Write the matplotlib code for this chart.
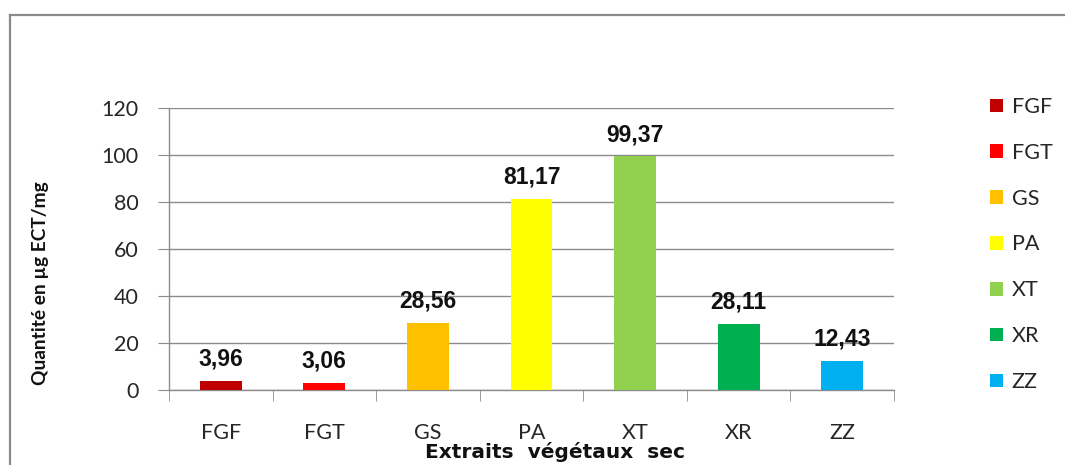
import matplotlib
matplotlib.use("Agg")
import matplotlib.pyplot as plt
from matplotlib.lines import Line2D
import numpy as np

# data
categories = ["FGF", "FGT", "GS", "PA", "XT", "XR", "ZZ"]
values = [3.96, 3.06, 28.56, 81.17, 99.37, 28.11, 12.43]
value_labels = ["3,96", "3,06", "28,56", "81,17", "99,37", "28,11", "12,43"]
colors = ["#C00000", "#FF0000", "#FFC000", "#FFFF00", "#92D050", "#00B050", "#00B0F0"]
y_ticks = [0, 20, 40, 60, 80, 100, 120]

W, H = 1065, 465
fig = plt.figure(figsize=(W / 100, H / 100), dpi=100)
fig.patch.set_facecolor("white")

# outer chart frame: only the top and left sides are inside the picture
fx, fy = 10 / W, 1 - 15 / H
fig.add_artist(Line2D([fx, 1.0], [fy, fy], transform=fig.transFigure,
                      color="#8a8a8a", lw=1.6))
fig.add_artist(Line2D([fx, fx], [0.0, fy], transform=fig.transFigure,
                      color="#8a8a8a", lw=1.6))

ax = fig.add_axes([169 / W, 1 - 390 / H, (894 - 169) / W, (390 - 108) / H])

x = np.arange(len(categories))
for i, (cat, v, c) in enumerate(zip(categories, values, colors)):
    ax.bar(x[i], v, width=0.405, color=c, label=cat, zorder=3)

for xi, v, lab in zip(x, values, value_labels):
    ax.annotate(lab, (xi, v), xytext=(0, 11), textcoords="offset points",
                ha="center", va="baseline", fontsize=16.5, fontweight="bold",
                family=["Liberation Sans", "DejaVu Sans"], color="#111111",
                zorder=4)

ax.set_xlim(-0.5, len(categories) - 0.5)
ax.set_ylim(0, 120)
ax.set_yticks(y_ticks)
ax.yaxis.grid(True, color="#8c8c8c", lw=1.0, zorder=0)
ax.set_axisbelow(True)

tick_font = dict(family=["Lato", "DejaVu Sans"], size=15.5, color="#262626")
ax.set_yticklabels([str(t) for t in y_ticks], **tick_font)
ax.set_xticks(x)
ax.set_xticklabels(categories, **tick_font)
ax.tick_params(axis="x", which="major", length=0, pad=24)
ax.set_xticks(np.arange(-0.5, len(categories), 1), minor=True)
ax.tick_params(axis="x", which="minor", length=8, color="#8c8c8c", direction="out")
ax.tick_params(axis="y", length=8, color="#8c8c8c", direction="out", pad=14)

for s in ["top", "right"]:
    ax.spines[s].set_visible(False)
for s in ["left", "bottom"]:
    ax.spines[s].set_color("#8c8c8c")
    ax.spines[s].set_linewidth(1.0)

fig.text(41 / W, 1 - 283 / H, "Quantité en µg ECT/mg", rotation=90,
         ha="center", va="center", fontsize=13.8, fontweight="bold",
         family=["Lato", "DejaVu Sans"], color="#111111")
fig.text(555 / W, 1 - 452 / H, "Extraits  végétaux  sec", ha="center",
         va="center", fontsize=14.5, fontweight="bold",
         family=["DejaVu Sans"], color="#111111")

leg = ax.legend(loc="upper left", bbox_to_anchor=(990 / W, 1 - 97 / H),
                bbox_transform=fig.transFigure, frameon=False,
                prop={"family": "Lato", "size": 15.5},
                handlelength=0.6, handleheight=0.6, handletextpad=0.4,
                labelspacing=1.2, borderpad=0, borderaxespad=0)
for t in leg.get_texts():
    t.set_color("#262626")

fig.savefig("out.png", dpi=100)
